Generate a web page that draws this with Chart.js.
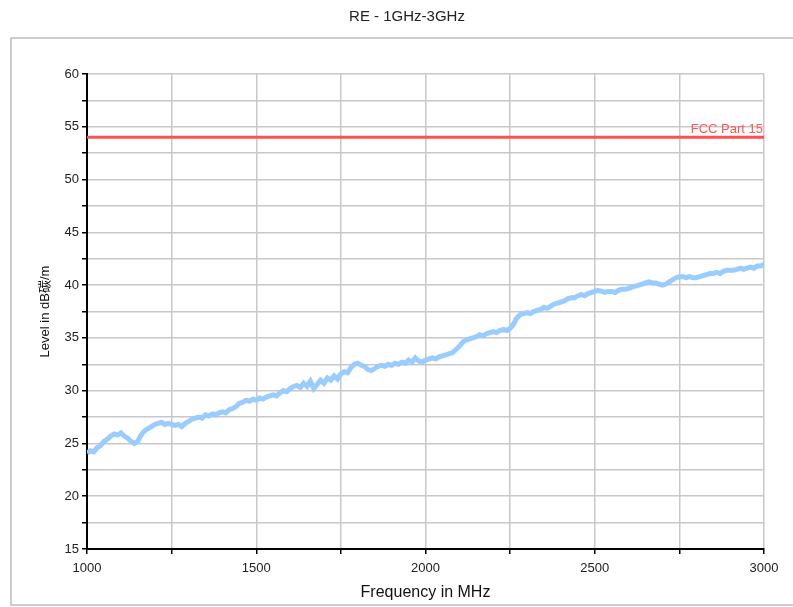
<!DOCTYPE html>
<html>
<head>
<meta charset="utf-8">
<script src="https://cdn.jsdelivr.net/npm/chart.js@4/dist/chart.umd.min.js"></script>
<style>
html,body{margin:0;padding:0;background:#fff;}
#wrap{position:relative;width:793px;height:607px;}
</style>
</head>
<body>
<div id="wrap"><canvas id="c" width="793" height="607"></canvas></div>
<script>
// ---- data ----
const chartTitle = "RE - 1GHz-3GHz";
const xTitle = "Frequency in MHz";
const yTitle = "Level in dB碳/m";
const limitLabel = "FCC Part 15";
const limitLevel = 54;
const freqStart = 1000;   // MHz
const freqStep = 10;      // MHz
const levels = [
  24.1,24.3,24.2,24.6,24.8,25.2,25.4,25.7,25.9,25.8,
  26.0,25.7,25.5,25.2,25.0,25.2,25.8,26.2,26.4,26.6,
  26.8,26.9,27.0,26.8,26.9,26.8,26.7,26.8,26.6,26.9,
  27.1,27.3,27.4,27.5,27.4,27.7,27.6,27.8,27.7,27.9,
  28.0,27.9,28.2,28.3,28.5,28.8,28.9,29.1,29.0,29.2,
  29.1,29.3,29.2,29.4,29.5,29.6,29.5,29.8,30.0,29.9,
  30.2,30.4,30.5,30.3,30.7,30.4,30.9,30.2,30.6,31.0,
  30.7,31.2,31.0,31.4,31.1,31.6,31.8,31.7,32.2,32.5,
  32.6,32.4,32.3,32.0,31.9,32.1,32.3,32.4,32.3,32.5,
  32.4,32.6,32.5,32.7,32.6,32.9,32.7,33.1,32.8,32.7,
  32.9,33.0,33.1,33.0,33.2,33.3,33.4,33.5,33.6,33.9,
  34.2,34.6,34.8,34.9,35.0,35.1,35.3,35.2,35.4,35.5,
  35.6,35.5,35.7,35.8,35.7,35.9,36.3,36.9,37.2,37.3,
  37.4,37.3,37.5,37.6,37.7,37.9,37.8,38.0,38.2,38.3,
  38.4,38.5,38.7,38.8,38.8,39.0,39.1,39.0,39.2,39.3,
  39.4,39.5,39.4,39.3,39.4,39.4,39.3,39.5,39.6,39.6,
  39.7,39.8,39.9,40.0,40.1,40.2,40.3,40.2,40.2,40.1,
  40.0,40.1,40.3,40.5,40.7,40.8,40.8,40.7,40.8,40.7,
  40.7,40.8,40.9,41.0,41.1,41.1,41.2,41.1,41.3,41.4,
  41.4,41.4,41.5,41.6,41.5,41.6,41.7,41.6,41.8,41.8,
  42.0
];
const xMin = 1000, xMax = 3000, xTickStep = 250, xLabelStep = 500;
const yMin = 15, yMax = 60, yTickStep = 2.5, yLabelStep = 5;

const FONT = "'Liberation Sans', Arial, 'Noto Sans CJK SC', sans-serif";

const measured = levels.map((v, i) => ({ x: freqStart + i * freqStep, y: v }));
const limit = [{ x: xMin, y: limitLevel }, { x: xMax, y: limitLevel }];

const framePlugin = {
  id: 'frame',
  beforeDraw(chart) {
    const ctx = chart.ctx;
    ctx.save();
    ctx.strokeStyle = '#bdbdbd';
    ctx.lineWidth = 1.5;
    ctx.strokeRect(11, 38, 800, 567);
    ctx.fillStyle = '#222';
    ctx.font = "15px " + FONT;
    ctx.textAlign = 'center';
    ctx.textBaseline = 'middle';
    ctx.fillText(chartTitle, 407, 17);
    ctx.restore();
  },
  afterDatasetsDraw(chart) {
    const ctx = chart.ctx;
    const xs = chart.scales.x, ys = chart.scales.y;
    ctx.save();
    ctx.fillStyle = '#ff5555';
    ctx.font = "13px " + FONT;
    ctx.textAlign = 'right';
    ctx.textBaseline = 'bottom';
    ctx.fillText(limitLabel, xs.getPixelForValue(xMax) - 1, ys.getPixelForValue(limitLevel) - 1);
    ctx.restore();
  }
};

new Chart(document.getElementById('c'), {
  type: 'line',
  data: {
    datasets: [
      { label: 'Measured', data: measured, borderColor: '#99ccff', borderWidth: 5,
        pointRadius: 0, tension: 0, fill: false, borderJoinStyle: 'miter' },
      { label: limitLabel, data: limit, borderColor: '#ff4f4f', borderWidth: 3,
        pointRadius: 0, fill: false }
    ]
  },
  options: {
    responsive: false,
    animation: false,
    events: [],
    layout: { padding: { left: 0, right: 29, top: 74, bottom: 0 } },
    plugins: {
      legend: { display: false },
      tooltip: { enabled: false },
      title: { display: false }
    },
    scales: {
      x: {
        type: 'linear', min: xMin, max: xMax,
        afterFit(s) { s.height = 58; },
        border: { display: true, color: '#000', width: 2 },
        grid: { color: '#c8c8c8', lineWidth: 1.5, tickColor: '#000', tickLength: 5, drawTicks: true },
        ticks: {
          stepSize: xTickStep, autoSkip: false, maxRotation: 0, padding: 7,
          color: '#222', font: { family: FONT, size: 13 },
          callback: v => (v % xLabelStep === 0 ? String(v) : '')
        },
        title: {
          display: true, text: xTitle, color: '#111',
          font: { family: FONT, size: 16 }, padding: { top: 0, bottom: 4.5 }
        }
      },
      y: {
        type: 'linear', min: yMin, max: yMax,
        afterFit(s) { s.width = 87; },
        border: { display: true, color: '#000', width: 2 },
        grid: { color: '#c8c8c8', lineWidth: 1.5, tickColor: '#000', tickLength: 5, drawTicks: true },
        ticks: {
          stepSize: yTickStep, autoSkip: false, padding: 3,
          color: '#222', font: { family: FONT, size: 13 },
          callback: v => (v % yLabelStep === 0 ? String(v) : '')
        },
        title: {
          display: true, text: yTitle, color: '#111',
          font: { family: FONT, size: 13 }, padding: { top: 38, bottom: 0 }
        }
      }
    }
  },
  plugins: [framePlugin]
});
</script>
</body>
</html>
